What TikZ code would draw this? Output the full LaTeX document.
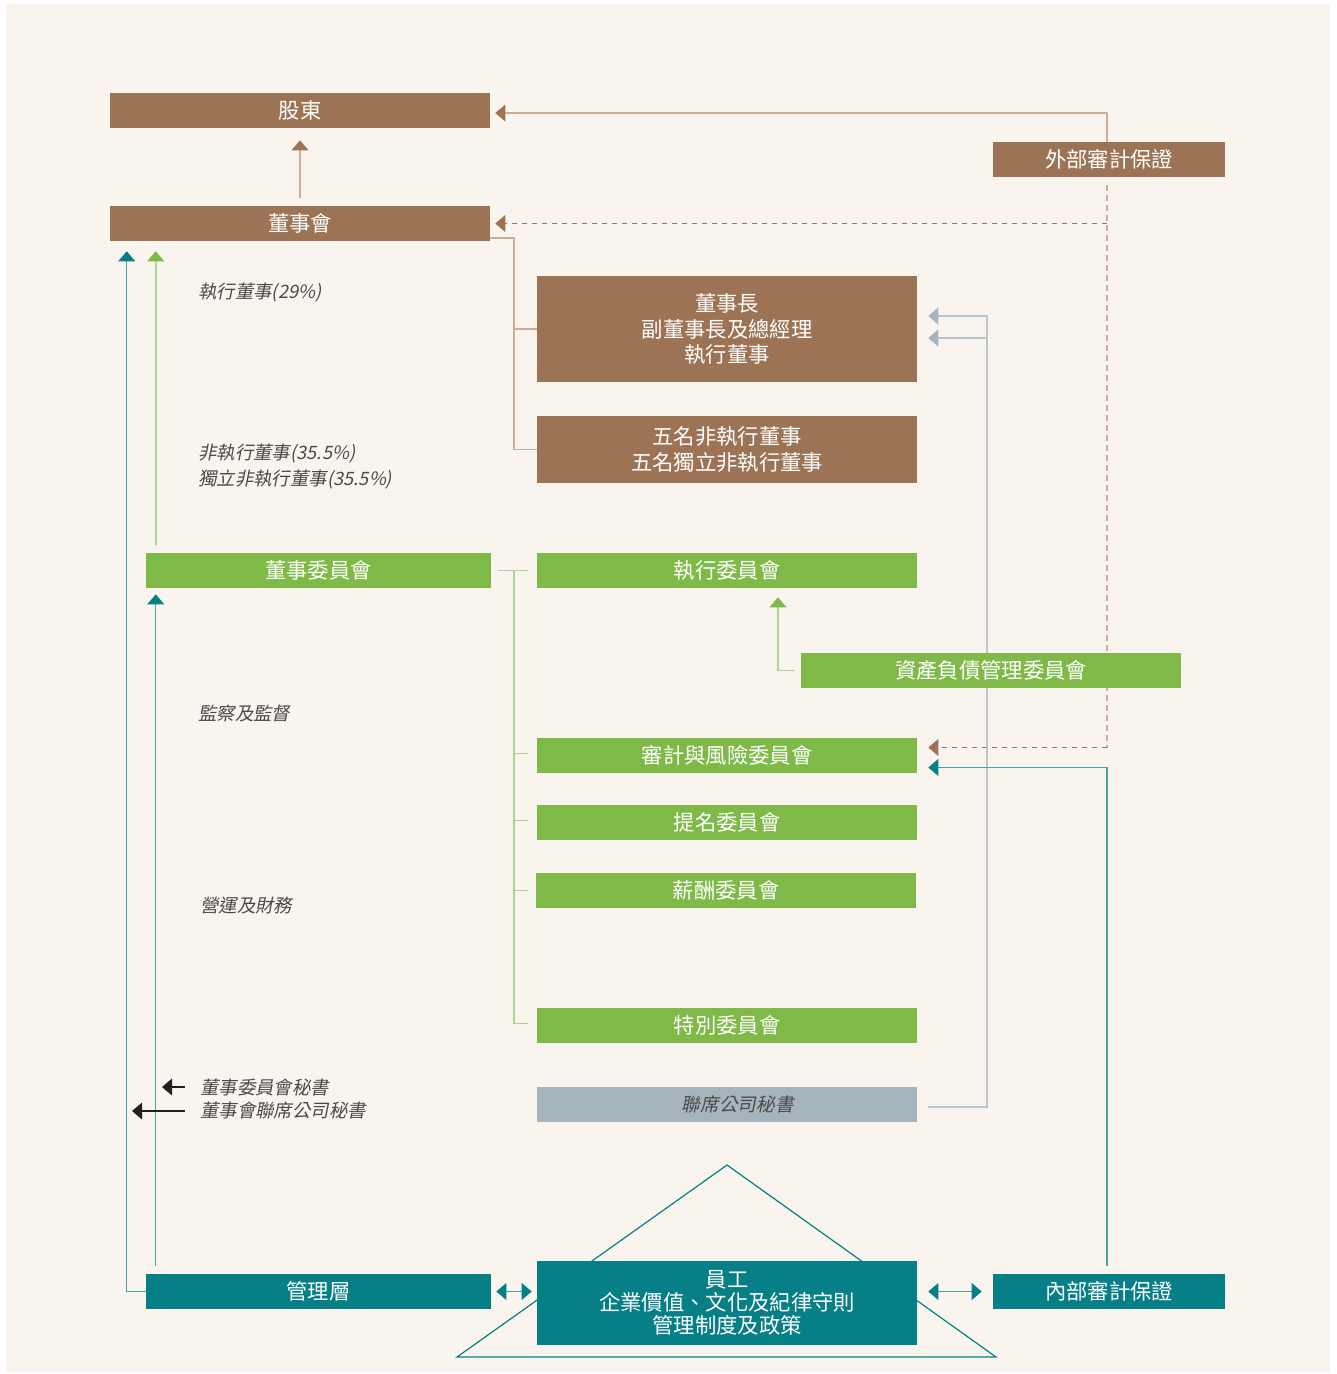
\documentclass[tikz,border=0pt]{standalone}
\usepackage{fontspec}
\newfontfamily\cjk{Noto Sans CJK TC}
\newfontfamily\cjkit[FakeSlant=0.2]{Noto Sans CJK TC}
\usetikzlibrary{arrows.meta,calc}
\pgfdeclarelayer{background}
\pgfsetlayers{background,main}
\definecolor{bg}{HTML}{F9F5EE}
\definecolor{brn}{HTML}{9C7455}
\definecolor{brnl}{HTML}{C9AF99}
\definecolor{grn}{HTML}{7FBA48}
\definecolor{grnl}{HTML}{AFD392}
\definecolor{tl}{HTML}{077F87}
\definecolor{tll}{HTML}{4AA2A8}
\definecolor{gbx}{HTML}{A6B4BD}
\definecolor{gln}{HTML}{BAC6CD}
\definecolor{lab}{HTML}{4A4A4A}
\definecolor{blk}{HTML}{231F20}
\tikzset{
  box/.style={rectangle, inner sep=0pt, minimum height=35*0.75pt, text=white, align=center, font=\cjk\fontsize{16}{19}\selectfont},
  bbox/.style={box, fill=brn},
  gbox/.style={box, fill=grn},
  tbox/.style={box, fill=tl},
  w380/.style={minimum width=380*0.75pt},
  w345/.style={minimum width=345*0.75pt},
  w232/.style={minimum width=232*0.75pt},
  lbl/.style={inner sep=0pt, anchor=west, text=lab, font=\cjkit\fontsize{13.8}{19.5}\selectfont},
  brnarrow/.style={draw=brnl, line width=1pt, -{Triangle[length=7.5pt,width=12.5pt,color=brn]}},
  brnline/.style={draw=brnl, line width=1.2pt},
  dashv/.style={draw=brnl, line width=1pt, dash pattern=on 4pt off 3.5pt},
  dashh/.style={draw=brn, line width=1pt, dash pattern=on 4pt off 3.5pt},
  dashharrow/.style={dashh, -{Triangle[length=7.5pt,width=12.5pt,color=brn]}},
  grnline/.style={draw=grnl, line width=1.2pt},
  grnarrow/.style={draw=grnl, line width=1.2pt, -{Triangle[length=7.5pt,width=12.5pt,color=grn]}},
  tlarrow/.style={draw=tll, line width=1.1pt, -{Triangle[length=7.5pt,width=12.5pt,color=tl]}},
  tldouble/.style={draw=tll, line width=1.1pt, {Triangle[length=7.5pt,width=12.5pt,color=tl]}-{Triangle[length=7.5pt,width=12.5pt,color=tl]}},
  gryline/.style={draw=gln, line width=1.6pt},
  gryarrow/.style={draw=gln, line width=1.6pt, -{Triangle[length=7.5pt,width=12.5pt,color=gbx]}},
  blkarrow/.style={draw=blk, line width=1pt, -{Triangle[length=7.5pt,width=12.5pt,color=blk]}},
  roof/.style={draw=tl, line width=0.9pt},
}
\begin{document}
\begin{tikzpicture}[x=0.75pt, y=-0.75pt]
\useasboundingbox (0,0) rectangle (1336,1374);

% boxes
\node[bbox, w380] (sh) at (300,110.5) {股東};
\node[bbox, w380] (bd) at (300,223.5) {董事會};
\node[bbox, w232] (ext) at (1109,159.5) {外部審計保證};
\node[bbox, w380, minimum height=106*0.75pt, font=\cjk\fontsize{16}{19.2}\selectfont] (chair) at (727,329) {董事長\\副董事長及總經理\\執行董事};
\node[bbox, w380, minimum height=67*0.75pt] (ned) at (727,449.5) {五名非執行董事\\五名獨立非執行董事};
\node[gbox, w345] (bc) at (318.5,570.5) {董事委員會};
\node[gbox, w380] (exc) at (727,570.5) {執行委員會};
\node[gbox, w380] (alm) at (991,670.5) {資產負債管理委員會};
\node[gbox, w380] (aud) at (727,755.5) {審計與風險委員會};
\node[gbox, w380] (nom) at (727,822.5) {提名委員會};
\node[gbox, w380] (rem) at (726,890.5) {薪酬委員會};
\node[gbox, w380] (spc) at (727,1025.5) {特別委員會};
\node[box, w380, fill=gbx, text=lab, font=\cjkit\fontsize{14}{19}\selectfont] (sec) at (727,1104.5) {\hspace*{16pt}聯席公司秘書};
\node[tbox, w345] (mgmt) at (318.5,1291.5) {管理層};
\node[tbox, w380, minimum height=84*0.75pt, font=\cjk\fontsize{16}{17}\selectfont] (staff) at (727,1303) {員工\\企業價值、文化及紀律守則\\管理制度及政策};
\node[tbox, w232] (int) at (1109,1291.5) {內部審計保證};

% labels
\node[lbl] (l1) at (198,292.5) {執行董事(29\%)};
\node[lbl, align=left] (l2) at (198,466.5) {非執行董事(35.5\%)\\獨立非執行董事(35.5\%)};
\node[lbl] (l3) at (198,714) {監察及監督};
\node[lbl] (l4) at (200,906) {營運及財務};
\node[lbl] (l5) at (200,1087) {董事委員會秘書};
\node[lbl] (l6) at (200,1111) {董事會聯席公司秘書};

% helper coordinates
\coordinate (tx) at (514,0);
\coordinate (gx) at (987,0);

\begin{pgfonlayer}{background}
\fill[white] (0,0) rectangle (1336,1374);
\fill[bg] (6,4) rectangle (1330,1372);

% roof triangle behind staff box
\draw[roof] (727,1165) -- (457,1357) -- (996,1357) -- cycle;

% board -> shareholders
\draw[brnarrow] ($(bd.north)+(0,-8)$) -- ($(sh.south)+(0,12)$);
% external audit -> shareholders
\draw[brnarrow] ($(ext.north)+(-2,0)$) |- ($(sh.east)+(5,2.5)$);
% external audit dashed
\coordinate (dj) at ($(ext.south)+(-2,0)$);
\draw[dashv] ($(ext.south)+(-2,8)$) -- ($(dj |- aud.east)+(0,-8)$);
\draw[dashharrow] (dj |- bd.east) -- ($(bd.east)+(5,0)$);
\draw[dashharrow] ($(dj |- aud.east)+(0,-8)$) -- ($(aud.east)+(11,-8)$);

% board -> directors
\draw[brnline] ($(bd.south east)+(0,-3)$) -| (ned.west -| tx) -- (ned.west);
\draw[brnline] (chair.west -| tx) -- (chair.west);

% joint secretary -> chair
\draw[gryarrow] ($(sec.east)+(11,2.5)$) -| ($(chair.east -| gx)+(0,-13)$) -- ($(chair.east)+(11,-13)$);
\draw[gryarrow] ($(chair.east -| gx)+(0,9)$) -- ($(chair.east)+(11,9)$);

% committee tree
\draw[grnline] ($(bc.east)+(7,0)$) -- ($(exc.west)+(-9,0)$);
\draw[grnline] (bc.east -| tx) |- ($(spc.west)+(-9,-2)$);
\draw[grnline] ($(aud.west -| tx)+(0,-2)$) -- ($(aud.west)+(-9,-2)$);
\draw[grnline] ($(nom.west -| tx)+(0,-2)$) -- ($(nom.west)+(-9,-2)$);
\draw[grnline] (rem.west -| tx) -- ($(rem.west)+(-8,0)$);

% ALM -> executive committee
\draw[grnarrow] ($(alm.west)+(-6,0)$) -| ($(exc.south)+(51,9)$);

% board committee -> board
\draw[grnarrow] ($(bc.north west)+(10,-8)$) -- ($(bd.south west)+(46,10)$);
% management -> board committee
\draw[tlarrow] ($(mgmt.north west)+(10,-8)$) -- ($(bc.south west)+(10,6)$);
% management -> board
\draw[tlarrow] (mgmt.west) -| ($(bd.south west)+(17,10)$);

% internal audit -> audit committee
\draw[tlarrow] ($(int.north)+(-2,-8)$) |- ($(aud.east)+(11,12)$);

% double arrows
\draw[tldouble] ($(mgmt.east)+(5,0)$) -- ($(mgmt.east -| staff.west)+(-5,0)$);
\draw[tldouble] ($(int.west -| staff.east)+(11,0)$) -- ($(int.west)+(-11,0)$);

% secretary arrows
\draw[blkarrow] ($(l5.west)+(-15,0)$) -- ($(l5.west)+(-38,0)$);
\draw[blkarrow] ($(l6.west)+(-15,0)$) -- ($(l6.west)+(-68,0)$);
\end{pgfonlayer}
\end{tikzpicture}
\end{document}
